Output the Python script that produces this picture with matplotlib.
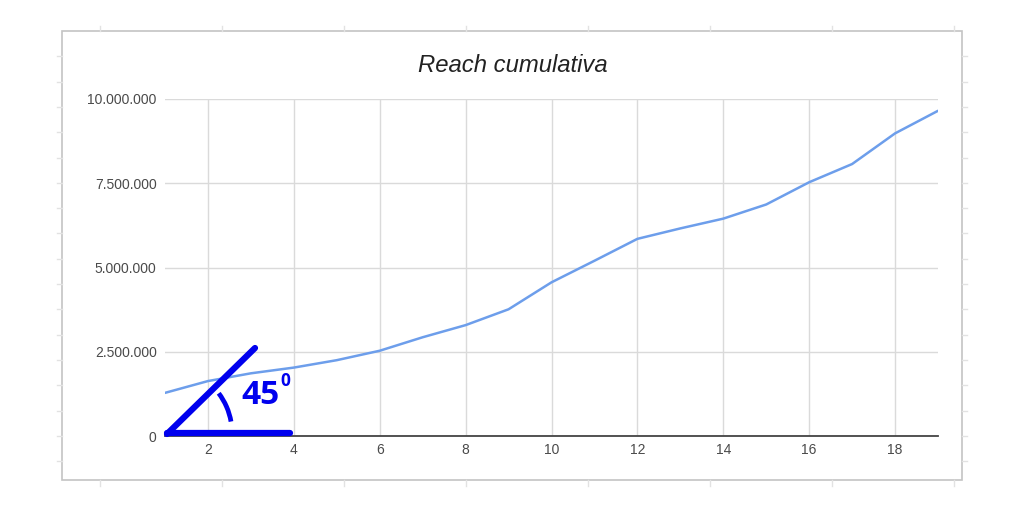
import matplotlib
matplotlib.use("Agg")
import matplotlib.pyplot as plt
from matplotlib.lines import Line2D
from matplotlib.patches import Arc, Rectangle
from matplotlib.ticker import FuncFormatter
from matplotlib.transforms import IdentityTransform

# -----------------------------------------------------
# Data (reach in units)
# -----------------------------------------------------
weeks = list(range(1, 20))
reach_millions = [1.28, 1.63, 1.86, 2.03, 2.25, 2.53, 2.93, 3.29, 3.76, 4.56,
                  5.20, 5.85, 6.16, 6.45, 6.87, 7.53, 8.07, 8.98, 9.65]
reach = [v * 1_000_000 for v in reach_millions]

x_ticks = [2, 4, 6, 8, 10, 12, 14, 16, 18]
y_ticks = [0, 2_500_000, 5_000_000, 7_500_000, 10_000_000]

title = "Reach cumulativa"
angle_label = "45"
angle_sup = "0"

W, H = 1024, 512
plt.rcParams["font.family"] = ["Liberation Sans", "DejaVu Sans"]


def px(x, y):
    # image pixel -> figure fraction
    return x / W, 1 - y / H


fig = plt.figure(figsize=(W / 100, H / 100), dpi=100)
fig.patch.set_facecolor("white")

# outer chart box + faint spreadsheet cell marks
x0, y0 = px(62, 31)
x1, y1 = px(962, 480)
fig.add_artist(Rectangle((x0, y1), x1 - x0, y0 - y1, transform=fig.transFigure,
                         fill=False, edgecolor="#c4c4c4", lw=1.2))
cell = "#e2e2e2"
for cx in [100, 222, 344, 466, 588, 710, 832, 954]:
    fig.add_artist(Line2D(*zip(px(cx, 26), px(cx, 31)), transform=fig.transFigure, color=cell, lw=1))
    fig.add_artist(Line2D(*zip(px(cx, 480), px(cx, 486)), transform=fig.transFigure, color=cell, lw=1))
for k in range(1, 18):
    cy = 31 + 25.3 * k
    fig.add_artist(Line2D(*zip(px(57, cy), px(62, cy)), transform=fig.transFigure, color=cell, lw=1))
    fig.add_artist(Line2D(*zip(px(962, cy), px(967, cy)), transform=fig.transFigure, color=cell, lw=1))

# -----------------------------------------------------
# Plot area
# -----------------------------------------------------
left, right = 165 / W, 938 / W
bottom, top = 1 - 436 / H, 1 - 99 / H
ax = fig.add_axes([left, bottom, right - left, top - bottom])

ax.plot(weeks, reach, color="#6d9eeb", lw=1.8, zorder=3, solid_capstyle="round")

ax.set_xlim(1, 19)
ax.set_ylim(0, 10_000_000)
ax.set_xticks(x_ticks)
ax.set_yticks(y_ticks)
ax.yaxis.set_major_formatter(FuncFormatter(lambda v, p: f"{int(v):,}".replace(",", ".")))

ax.grid(True, color="#dadada", lw=1)
for s in ["top", "right", "left"]:
    ax.spines[s].set_visible(False)
ax.spines["bottom"].set_color("#444444")
ax.spines["bottom"].set_linewidth(1.3)
ax.spines["bottom"].set_zorder(4)
ax.tick_params(length=0, labelsize=10, labelcolor="#4a4a4a")
ax.tick_params(axis="y", pad=6)
ax.tick_params(axis="x", pad=5)

fig.text(*px(513, 65), title, ha="center", va="center", fontsize=17.2,
         style="italic", color="#222222")

# -----------------------------------------------------
# 45 degree annotation (display pixels, origin bottom-left)
# -----------------------------------------------------
blue = "#0000ee"
fig.add_artist(Line2D(*zip(px(167, 433), px(290, 433)), transform=fig.transFigure,
                      color=blue, lw=4.5, solid_capstyle="round", zorder=5))
fig.add_artist(Line2D(*zip(px(167, 434), px(255, 348)), transform=fig.transFigure,
                      color=blue, lw=4.5, solid_capstyle="round", zorder=5))
fig.add_artist(Arc((166, H - 433), 132, 132, theta1=10, theta2=37,
                   transform=IdentityTransform(), color=blue, lw=3.4, zorder=5))
fig.text(*px(261, 395), angle_label, ha="center", va="center", fontsize=24,
         fontweight="bold", color=blue, family=["Open Sans", "DejaVu Sans"])
fig.text(*px(285, 381), angle_sup, ha="center", va="center", fontsize=12.5,
         fontweight="bold", color=blue, family=["Open Sans", "DejaVu Sans"])

plt.savefig("out.png", dpi=100)
plt.close()
